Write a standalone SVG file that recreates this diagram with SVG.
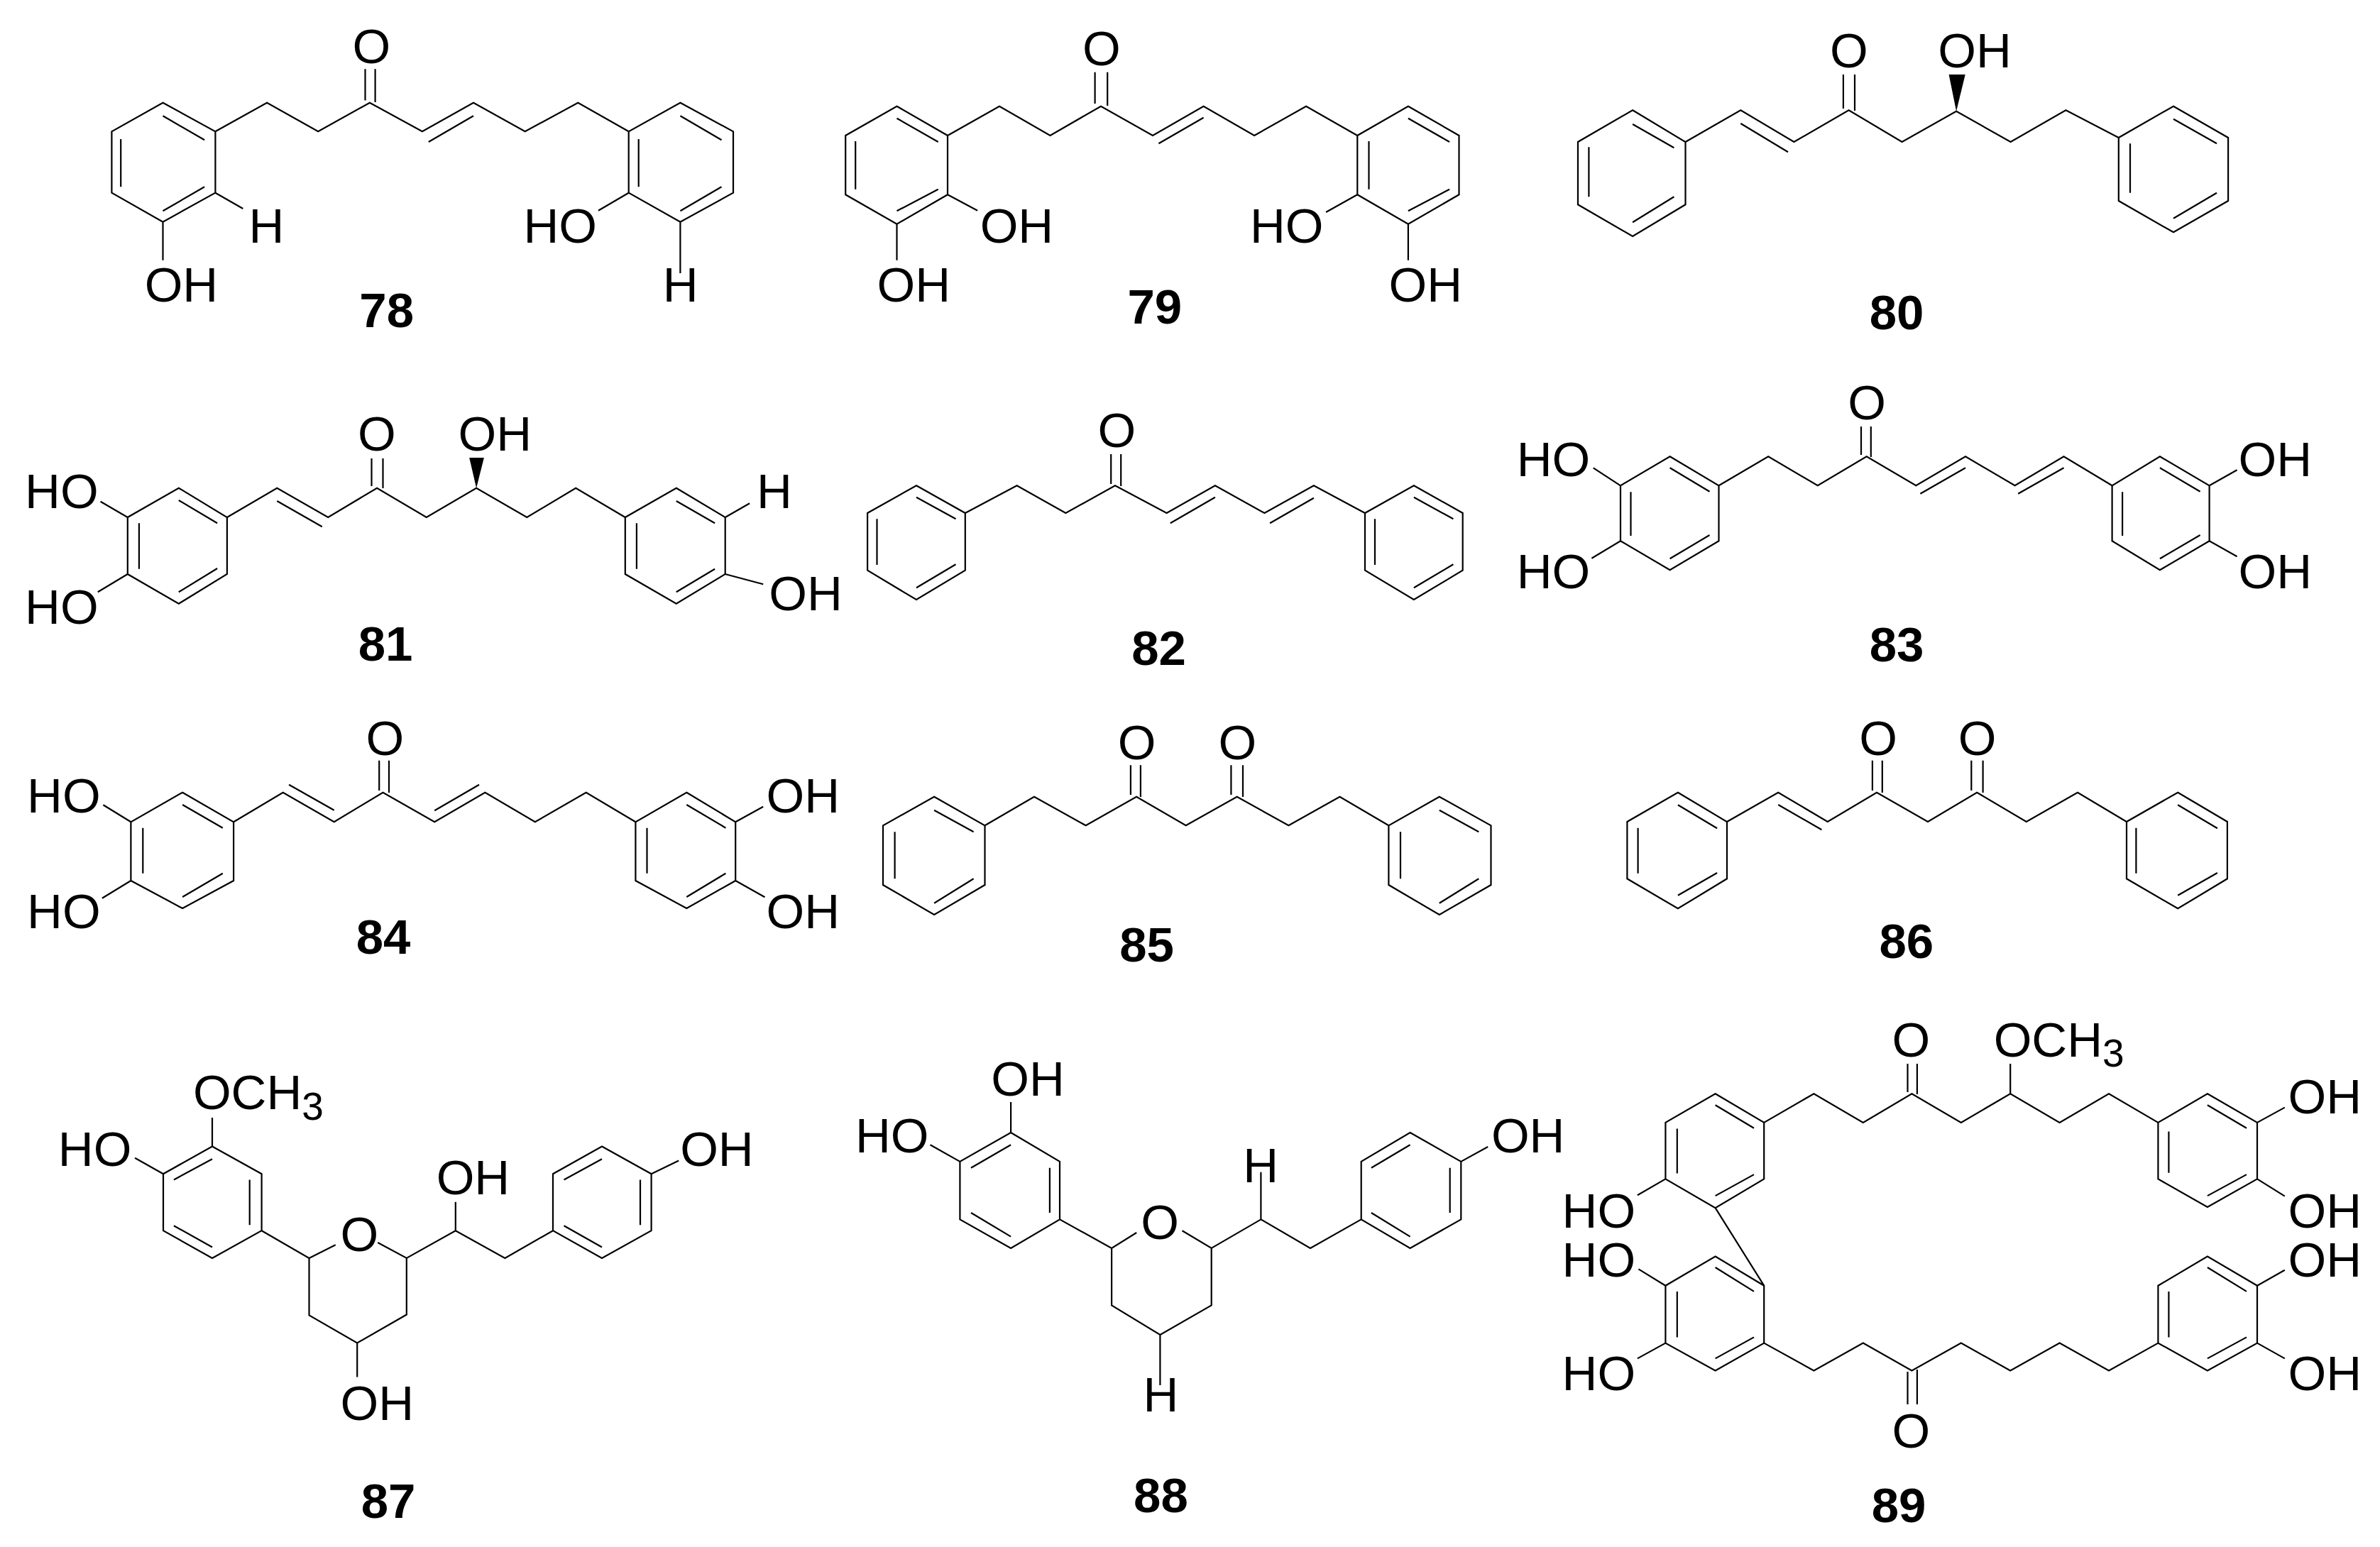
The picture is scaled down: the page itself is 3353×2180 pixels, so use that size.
<svg xmlns="http://www.w3.org/2000/svg" width="3353" height="2180" viewBox="0 0 3353 2180">
<style>
.b{fill:none;stroke:#000;stroke-width:2.2;stroke-linejoin:miter;stroke-linecap:butt}
.w{fill:#000}
text{font-family:"Liberation Sans",Arial,sans-serif;font-size:69px;fill:#000}
.n{font-weight:bold;text-anchor:middle}
.s{font-size:55px}
</style>
<rect width="3353" height="2180" fill="#fff"/>
<g id="compound-78">
<path class="b" d="M229.5 144.7L303.4 185.3V271.7L229.5 312.7L157.4 271.7V185.3Z M229.5 163.3L288.1 197.3 M170.2 196V263.3 M288.1 263.3L229.5 297.3 M303.4 185.3L376.1 144.7L448.2 185.3L520.9 144.7L594.9 185.3L667 144.7L739.7 185.3L814.3 144.7L885.7 185.3 M514.5 97.3V141.5 M528.6 97.3V144 M603.8 200L667 163.3 M303.4 271.7L342.3 294 M229.5 312.7V366.7 M958.4 144.7L1033 185.3V271.7L958.4 312.7L885.7 271.7V185.3Z M958.4 163.3L1016.5 197.3 M1016.5 263.3L958.4 297.3 M899.7 196V263.3 M885.7 271.7L843 296.7 M958.4 312.7V385"/>
<text x="496.5" y="88.5">O</text><text x="350.5" y="341.7">H</text><text x="203.7" y="425">OH</text><text x="737.4" y="341.7">HO</text><text x="933.8" y="425">H</text><text class="n" x="544.7" y="461">78</text>
</g>
<g id="compound-79">
<path class="b" d="M1263.5 149.7L1335 191V274.3L1263.5 315.7L1191.2 274.3V191Z M1263.5 166.7L1321.7 200 M1205.2 199V266.7 M1321.7 266.7L1263.5 297.3 M1335 191L1408 149.7L1479.5 191L1551 149.7L1624 191L1695.6 149.7L1767.1 191L1840.1 149.7L1912.3 191 M1542.6 101.7V146 M1560.2 101.7V149 M1632.4 202.3L1695.6 165.7 M1335 274.3L1377.1 296.7 M1263.5 315.7V366.7 M1983.9 149.7L2055.5 191V274.3L1983.9 315.7L1912.3 274.3V191Z M1983.9 166.7L2042.1 200 M2042.1 266.7L1983.9 297.3 M1928.5 199V266.7 M1912.3 274.3L1868.1 299 M1983.9 315.7V366.7"/>
<text x="1525" y="91.5">O</text><text x="1380.7" y="341.7">OH</text><text x="1235.5" y="425">OH</text><text x="1760.9" y="341.7">HO</text><text x="1956.6" y="425">OH</text><text class="n" x="1626.8" y="455.5">79</text>
</g>
<g id="compound-80">
<path class="b" d="M2300.1 155.3L2374.5 200V288.3L2300.1 333L2223 288.3V200Z M2300.1 175L2358.4 208.3 M2358.4 277.3L2300.1 313.3 M2238.4 207.3V277.3 M2374.5 200L2452.3 155.3L2527.4 200L2604.6 155.3L2679.6 200L2756.1 156.7L2832.6 200L2910.4 155.3L2984.8 194 M2452.3 174L2519 214.3 M2596.9 105V153 M2613 105V156 M3062 149.7L3139.1 194V283L3062 327.3L2984.8 283V194Z M3062 167.7L3123 202.3 M3123 271.7L3062 307.7 M3001 202.3V271.7"/>
<polygon class="w" points="2756.1,156.7 2745.6,105 2768.7,105"/>
<text x="2578" y="95">O</text><text x="2730.3" y="95">OH</text><text class="n" x="2672" y="463.5">80</text>
</g>
<g id="compound-81">
<path class="b" d="M251.8 687.7L319.9 729V809L251.8 850.7L179.8 809V729Z M251.8 705L306.1 737.3 M306.1 801L251.8 834.3 M195.9 737.3V801.7 M179.8 729L141.6 706.7 M179.8 809L137.8 834.3 M319.9 729L390.3 687.7L462.2 729L531.1 687.7L600.8 729L671.1 687.7L742.3 729L811.2 687.7L880.8 729 M390.3 706L453.8 742.3 M523.5 646V685 M539.5 646V688 M952.8 687.7L1021.7 729V809L952.8 850.7L880.8 809V729Z M952.8 706L1007.1 737.3 M1007.1 801.7L952.8 834.3 M896.9 737.3V801.7 M1021.7 729L1056.1 709.3 M1021.7 809L1075.2 823.3"/>
<polygon class="w" points="671.1,687.7 661.2,645 681.9,645"/>
<text x="35.1" y="716">HO</text><text x="35.1" y="879">HO</text><text x="504" y="635">O</text><text x="645.6" y="635">OH</text><text x="1065.9" y="716">H</text><text x="1083.3" y="860">OH</text><text class="n" x="543" y="931">81</text>
</g>
<g id="compound-82">
<path class="b" d="M1291 684.3L1359.8 723V803.7L1291 845L1222.1 803.7V723Z M1291 700.7L1346.5 731.3 M1346.5 795.3L1291 828.3 M1235.5 731.3V796 M1359.8 723L1432.6 684.3L1501.4 723L1571 684.3L1643.6 723L1711.9 684.3L1781.4 723L1850.9 684.3L1923 723 M1648.8 737.3L1711.9 700.7 M1789.1 737.3L1850.9 701.7 M1565.2 640V682 M1579.2 640V685 M1991.9 684.3L2060.7 723V803.7L1991.9 845L1923 803.7V723Z M1991.9 700.7L2047.4 731.3 M2047.4 795.3L1991.9 828.3 M1937 731.3V796"/>
<text x="1546.5" y="630">O</text><text class="n" x="1632.5" y="937">82</text>
</g>
<g id="compound-83">
<path class="b" d="M2352.6 643.3L2421.5 684.3V762.3L2352.6 803.3L2283 762.3V684.3Z M2352.6 659.3L2408.5 692.7 M2408.5 754L2352.6 787.3 M2297.5 693.3V755 M2283 684.3L2244.7 659.3 M2283 762.3L2242.4 786.7 M2421.5 684.3L2491.2 643.3L2560.8 684.3L2629.7 643.3L2699.3 684.3L2769 643.3L2838.6 684.3L2907.5 643.3L2975.6 684.3 M2705.4 695.7L2769 659.3 M2843.2 695.7L2907.5 659.3 M2622 601V641 M2635.8 601V644 M3042.9 643.3L3112.6 684.3V762.3L3042.9 803.3L2975.6 762.3V684.3Z M3042.9 659.3L3099.6 692.7 M3099.6 754L3042.9 787.3 M2990.1 693.3V755 M3112.6 684.3L3151.6 662.3 M3112.6 762.3L3151.6 784.3"/>
<text x="2136.7" y="671">HO</text><text x="2136.7" y="829">HO</text><text x="2603.3" y="591">O</text><text x="3153.6" y="671">OH</text><text x="3153.6" y="829">OH</text><text class="n" x="2672" y="932">83</text>
</g>
<g id="compound-84">
<path class="b" d="M257.1 1116.7L329.1 1158.3V1241L257.1 1280L184.4 1241V1158.3Z M257.1 1134L313.8 1166.7 M313.8 1230.7L257.1 1264 M201.3 1166.7V1230.7 M184.4 1158.3L145.4 1134.3 M184.4 1241L143.9 1265.7 M329.1 1158.3L398.7 1116.7L470.7 1158.3L539.5 1116.7L612.2 1158.3L683.4 1116.7L753.8 1158.3L825.7 1116.7L895.4 1158.3 M407.1 1105.7L470.7 1141.7 M612.2 1142.3L675 1105.7 M534.2 1071.7V1114 M548 1071.7V1117 M967.3 1116.7L1036.2 1158.3V1241L967.3 1280L895.4 1241V1158.3Z M967.3 1134L1022.4 1166.7 M1022.4 1230.7L967.3 1264 M911.5 1166.7V1230.7 M1036.2 1158.3L1075.2 1136.7 M1036.2 1241L1077.5 1264.3"/>
<text x="38.1" y="1144.5">HO</text><text x="38.1" y="1308">HO</text><text x="515.5" y="1063.8">O</text><text x="1079.5" y="1144.5">OH</text><text x="1079.5" y="1308">OH</text><text class="n" x="540" y="1344">84</text>
</g>
<g id="compound-85">
<path class="b" d="M1316.1 1122.7L1387.5 1163.3V1247L1316.1 1289L1244 1247V1163.3Z M1316.1 1141.7L1371.6 1172.3 M1371.6 1238.3L1316.1 1272.7 M1260.6 1172.3V1238.3 M1387.5 1163.3L1457 1122.7L1529.7 1163.3L1601.1 1122.7L1670.7 1163.3L1742.7 1122.7L1815.4 1163.3L1887.5 1122.7L1956.4 1163.3 M1592.9 1078.3V1120 M1606.9 1078.3V1123 M1734.4 1078.3V1120 M1751 1078.3V1123 M2027.8 1122.7L2100.5 1163.3V1247L2027.8 1289L1956.4 1247V1163.3Z M2027.8 1141.7L2083.3 1172.3 M2083.3 1238.3L2027.8 1272.7 M1973 1172.3V1238.3"/>
<text x="1574.8" y="1070">O</text><text x="1716.4" y="1070">O</text><text class="n" x="1615.5" y="1355">85</text>
</g>
<g id="compound-86">
<path class="b" d="M2363.9 1116.7L2433 1158V1238.3L2363.9 1280.3L2292.4 1238.3V1158Z M2363.9 1134.3L2419.1 1167.3 M2419.1 1230L2363.9 1261.7 M2307.6 1166.7V1230.7 M2433 1158L2505.2 1116.7L2574.8 1158L2644 1116.7L2716 1158L2785.2 1116.7L2854.8 1158L2927 1116.7L2996 1158 M2505.2 1134L2566.4 1169.3 M2637.9 1071.7V1114 M2651.8 1071.7V1117 M2777.3 1071.7V1114 M2793.6 1071.7V1117 M3068.2 1116.7L3137.9 1158V1238.3L3068.2 1280.3L2996 1238.3V1158Z M3068.2 1134.3L3123.9 1167.3 M3123.9 1230L3068.2 1261.7 M3009.4 1166.7V1230.7"/>
<text x="2619.3" y="1063.8">O</text><text x="2758.7" y="1063.8">O</text><text class="n" x="2685.8" y="1349.5">86</text>
</g>
<g id="compound-87">
<path class="b" d="M299 1615.5L368.6 1654.2V1734.2L299 1772.9L230 1734.2V1654.2Z M299 1633.2L244.9 1662.5 M351.7 1662.5V1726.3 M299 1757.5L244.9 1727.2 M299 1615.5V1575 M230 1654.2L190.1 1631.8 M368.6 1734.2L435.5 1772.9L472.7 1754.2 M435.5 1772.9V1853.4L503.2 1892.5L572.8 1852.5V1772.9L532.2 1751 M503.2 1892.5V1940.5 M572.8 1772.9L641.8 1734.2L711.4 1772.9L779 1734.2 M641.8 1734.2V1693.7 M848 1615.5L917.6 1654.2V1734.2L848 1772.9L779 1734.2V1654.2Z M848 1633.2L794.5 1662.5 M902 1662.5V1726.3 M848 1757.5L794.5 1727.2 M917.6 1654.2L956.2 1635.5"/>
<text x="271.9" y="1563">OCH<tspan class="s" dy="15">3</tspan></text><text x="81.8" y="1643">HO</text><text x="479.5" y="1763">O</text><text x="479.5" y="2000.5">OH</text><text x="614.7" y="1682.5">OH</text><text x="958.2" y="1643">OH</text><text class="n" x="547" y="2139">87</text>
</g>
<g id="compound-88">
<path class="b" d="M1424.1 1596L1493 1636.9V1718.4L1424.1 1758.9L1352.4 1718.4V1636.9Z M1424.1 1613.2L1368 1645.8 M1478.9 1645.8V1709 M1424.1 1742.6L1368 1709 M1424.1 1596V1553.1 M1352.4 1636.9L1310.5 1613.2 M1493 1718.4L1566.1 1758.9L1601.2 1737 M1566.1 1758.9V1839.4L1634.4 1880.9L1706.7 1839.4V1758.9L1665.5 1734.2 M1634.4 1880.9V1952 M1706.7 1758.9L1776.4 1718.4L1846 1758.9L1917.7 1718.4 M1776.4 1718.4V1651.8 M1986.6 1596L2058.3 1636.9V1718.4L1986.6 1758.9L1917.7 1718.4V1636.9Z M1986.6 1613.2L1931.9 1645.8 M2042.7 1645.8V1709 M1986.6 1742.6L1931.9 1709 M2058.3 1636.9L2096.2 1616"/>
<text x="1396.3" y="1544">OH</text><text x="1204.9" y="1623.5">HO</text><text x="1607.3" y="1745.8">O</text><text x="1610.6" y="1989">H</text><text x="1751.2" y="1665.5">H</text><text x="2100.9" y="1623.5">OH</text><text class="n" x="1635.4" y="2131">88</text>
</g>
<g id="compound-89">
<path class="b" d="M2416.6 1541.2L2485.2 1581.9V1661.4L2416.6 1702.1L2346.4 1661.4V1581.9Z M2416.6 1557.2L2471 1589.7 M2471 1655.1L2416.6 1685.1 M2362.8 1590.6V1653.6 M2346.4 1661.4L2306.9 1684.2 M2416.6 1702.1L2485.2 1811.7 M2485.2 1581.9L2555.4 1541.2L2624.8 1581.9L2693.4 1541.2L2762.8 1581.9L2832.2 1541.2L2901.6 1581.9L2971 1541.2L3040.4 1581.9 M2687.5 1499V1539 M2700.9 1499V1542 M2832.2 1541.2V1499 M3109.9 1541.2L3180 1581.9V1661.4L3109.9 1701L3040.4 1661.4V1581.9Z M3109.9 1557.2L3165 1589.7 M3165 1655.1L3109.9 1685.1 M3055.4 1594.5V1652.7 M3180 1581.9L3218.8 1560.6 M3180 1661.4L3218.8 1685.6 M2416.6 1770.5L2485.2 1811.7V1892.6L2416.6 1931.4L2346.4 1892.6V1811.7Z M2416.6 1786L2471 1819.9 M2471 1884.4L2416.6 1914.4 M2362.8 1819.9V1884.4 M2346.4 1811.7L2308.4 1788.4 M2346.4 1892.6L2306.9 1914.4 M2485.2 1892.6L2555.4 1931.4L2624.8 1892.6L2693.4 1931.4L2762.8 1892.6L2832.2 1931.4L2901.6 1892.6L2971 1931.4L3040.4 1892.6 M2687.5 1933V1978.9 M2700.9 1930V1978.9 M3109.9 1770.5L3180 1811.7V1892.6L3109.9 1931.4L3040.4 1892.6V1811.7Z M3109.9 1786L3165 1819.9 M3165 1884.4L3109.9 1914.4 M3055.4 1819.9V1884.4 M3180 1811.7L3218.8 1789.8 M3180 1892.6L3218.8 1914.4"/>
<text x="2665.4" y="1489">O</text><text x="2808.7" y="1489">OCH<tspan class="s" dy="14">3</tspan></text><text x="2200.6" y="1730">HO</text><text x="2200.6" y="1799">HO</text><text x="2200.6" y="1958.5">HO</text><text x="3223.6" y="1568.5">OH</text><text x="3223.6" y="1730">OH</text><text x="3223.6" y="1799">OH</text><text x="3223.6" y="1958.5">OH</text><text x="2665.4" y="2040">O</text><text class="n" x="2675" y="2145">89</text>
</g>
</svg>
